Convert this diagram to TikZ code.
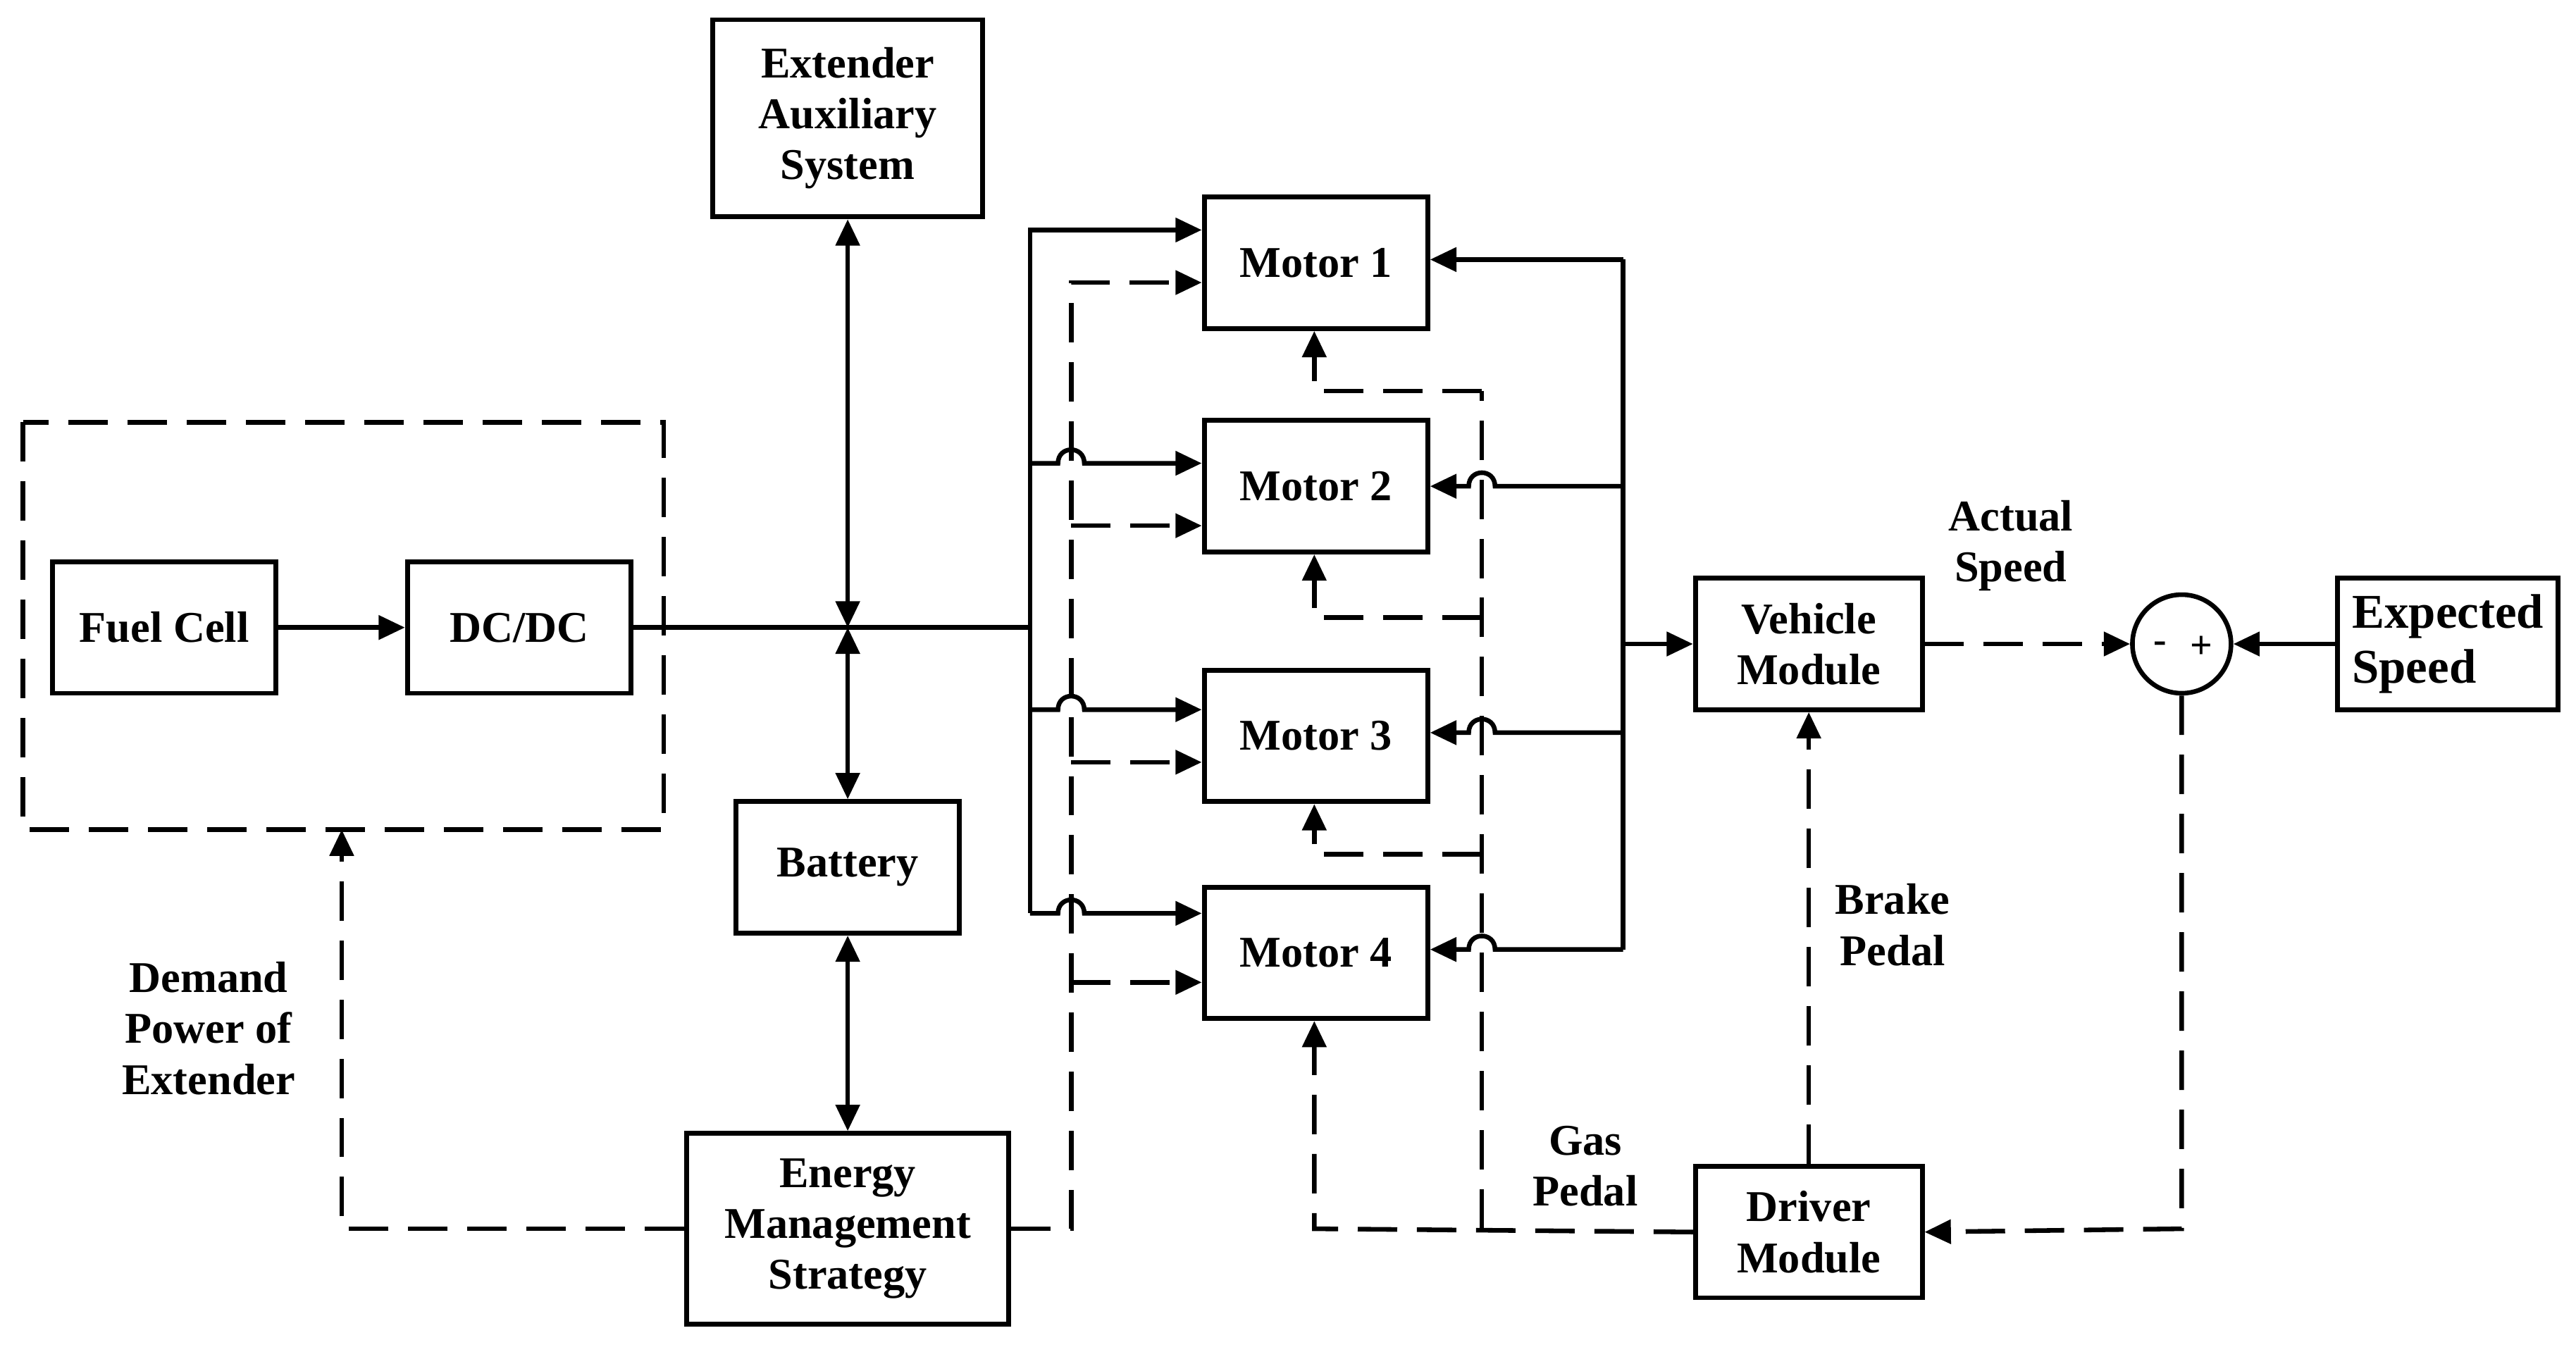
\documentclass[tikz,border=0pt]{standalone}
\usepackage{fontspec}
\setmainfont{Liberation Serif}
\usetikzlibrary{arrows.meta}
\tikzset{
  blk/.style={draw, line width=2.1pt, align=center, font=\fontsize{19}{22}\selectfont\bfseries, minimum width=3.4cm, minimum height=2cm, inner sep=2pt},
  lbl/.style={align=center, font=\fontsize{19}{22}\selectfont\bfseries},
  ln/.style={line width=2pt},
  dsh/.style={line width=2pt, dash pattern=on 0.6cm off 0.3cm},
  tip/.style={-{Triangle[length=0.4cm,width=0.36cm]}},
  dtip/.style={{Triangle[length=0.4cm,width=0.36cm]}-{Triangle[length=0.4cm,width=0.36cm]}}
}
\begin{document}
\begin{tikzpicture}[x=0.025cm, y=-0.025cm]
  \useasboundingbox (0,0) rectangle (1568,823);
  % blocks
  \node[blk] (fc) at (100,382) {Fuel Cell};
  \node[blk] (dcdc) at (316,382) {DC/DC};
  \node[blk, minimum width=4.1cm, minimum height=3cm] (aux) at (516,72) {Extender\\Auxiliary\\System};
  \node[blk] (bat) at (516,528) {Battery};
  \node[blk, minimum width=4.9cm, minimum height=2.9cm] (ems) at (516,748) {Energy\\Management\\Strategy};
  \node[blk] (m1) at (801,160) {Motor 1};
  \node[blk] (m2) at (801,296) {Motor 2};
  \node[blk] (m3) at (801,448) {Motor 3};
  \node[blk] (m4) at (801,580) {Motor 4};
  \node[blk, minimum width=3.45cm] (veh) at (1101,392) {Vehicle\\Module};
  \node[blk, minimum width=3.45cm] (drv) at (1101,750) {Driver\\Module};
  \node[blk, minimum width=3.35cm, align=left, font=\fontsize{21}{24}\selectfont\bfseries, inner sep=1pt] (exp) at (1490,392) {Expected\\Speed};
  \node[draw, line width=2pt, circle, minimum size=1.5cm, inner sep=0pt] (sum) at (1328,392) {};
  \node[font=\fontsize{17}{20}\selectfont\bfseries] at (1315,394) {-};
  \node[font=\fontsize{17}{20}\selectfont\bfseries] at (1340,394) {+};
  % extender frame
  \draw[dsh] (14,257) rectangle (404,505);
  \coordinate (ext) at (208,505);
  % labels
  \node[lbl] at (1224,332) {Actual\\Speed};
  \node[lbl] at (1152,563) {Brake\\Pedal};
  \node[lbl] at (965,710) {Gas\\Pedal};
  \node[lbl] at (127,626) {Demand\\Power of\\Extender};
  % power bus
  \coordinate (j) at (516,382);
  \coordinate (bus) at (627,382);
  \draw[ln, tip] (fc) -- (dcdc);
  \draw[ln] (dcdc) -- (bus);
  \draw[ln, dtip] (aux) -- (j);
  \draw[ln, dtip] (j) -- (bat);
  \draw[ln, dtip] (bat) -- (ems);
  \draw[ln, tip] (627,382) -- (627,140) -- (m1.west |- 0,140);
  \draw[ln] (627,140) -- (627,556);
  \foreach \m/\y in {m2/282, m3/432, m4/556}
    \draw[ln, tip] (627,\y) -- (644,\y) .. controls (644,\y-11) and (660,\y-11) .. (660,\y) -- (\m.west |- 0,\y);
  % control signals from strategy
  \draw[dsh, tip] (ems.east) -- (652,748) -- (652,172) -- (m1.west |- 0,172);
  \foreach \m/\y in {m2/320, m3/464, m4/598}
    \draw[dsh, tip] (652,\y) -- (\m.west |- 0,\y);
  % motor torque to vehicle
  \draw[ln, tip] (988,158) -- (m1.east |- 0,158);
  \draw[ln] (988,158) -- (988,578);
  \foreach \m/\y in {m2/296, m3/446, m4/578}
    \draw[ln, tip] (988,\y) -- (910,\y) .. controls (910,\y-11) and (894,\y-11) .. (894,\y) -- (\m.east |- 0,\y);
  \draw[ln, tip] (988,392) -- (veh.west);
  % gas pedal
  \draw[dsh, tip] (drv.west) -- (800,748) -- (m4.south -| 800,0);
  \draw[dsh] (902,748) -- (902,238);
  \draw[dsh, tip] (902,238) -- (800,238) -- (m1.south -| 800,0);
  \draw[dsh, tip] (902,376) -- (800,376) -- (m2.south -| 800,0);
  \draw[dsh, tip] (902,520) -- (800,520) -- (m3.south -| 800,0);
  % speed loop
  \draw[dsh, tip] (veh.east) -- (sum.west);
  \draw[ln, tip] (exp.west) -- (sum.east);
  \draw[dsh, tip] (sum.south) -- (1328,748) -- (drv.east);
  \draw[dsh, tip] (drv.north) -- (veh.south);
  % demand power
  \draw[dsh, tip] (ems.west) -- (208,748) -- (ext);
\end{tikzpicture}
\end{document}
